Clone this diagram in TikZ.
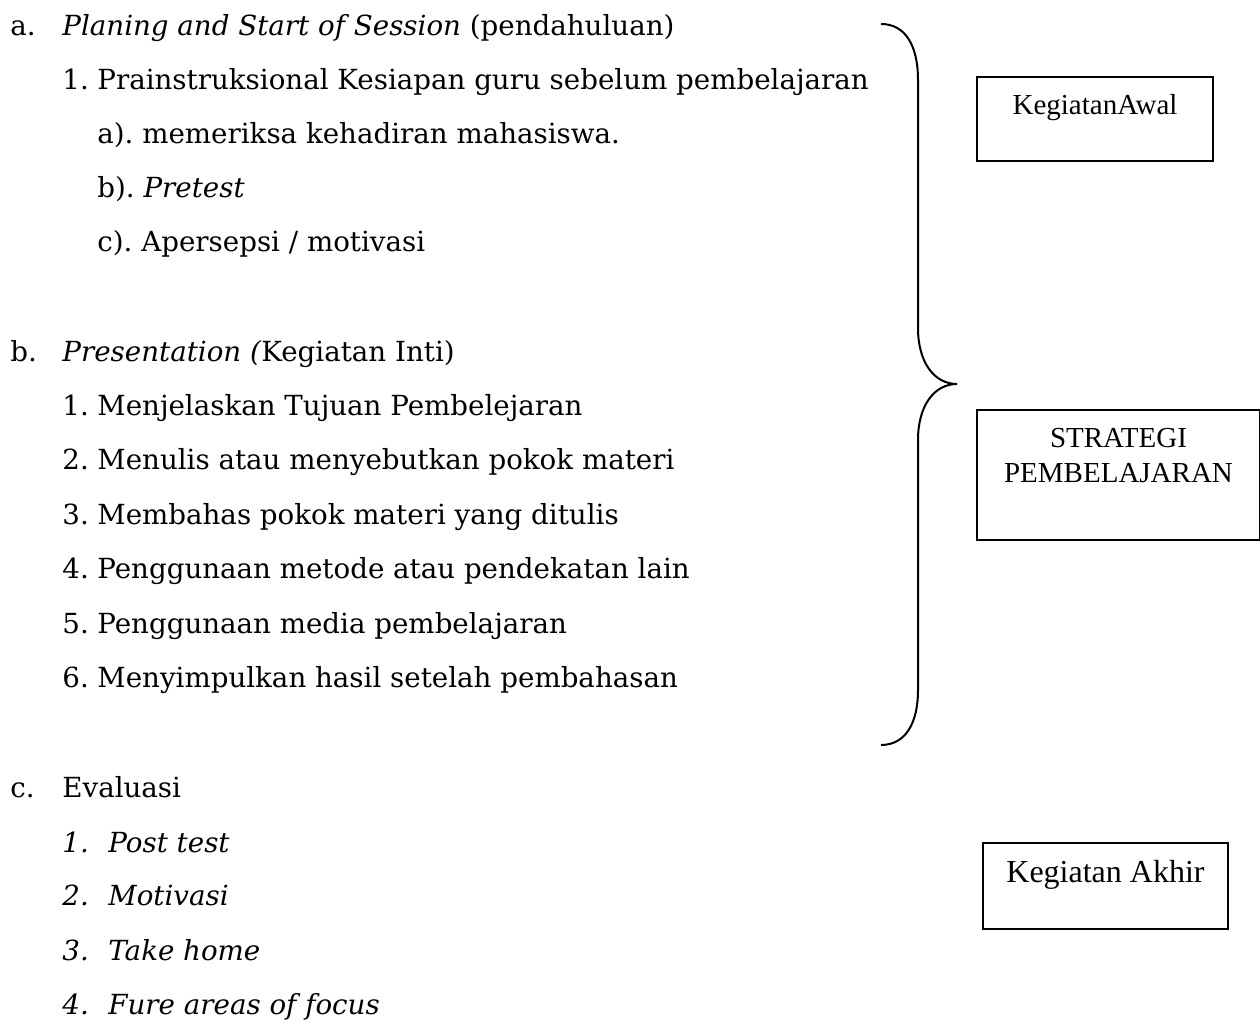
\documentclass[tikz,border=0pt]{standalone}
\usepackage{fontspec}
\setmainfont{DejaVu Serif}
\newfontfamily\boxfont{Liberation Serif}
\frenchspacing

\begin{document}
\begin{tikzpicture}[x=0.5pt, y=-0.5pt,
  txt/.style={anchor=base west, inner sep=0pt, font=\fontsize{13.85}{16}\selectfont},
  kotak/.style={draw, line width=1pt, anchor=north west, inner sep=0pt},
  kotaktxt/.style={inner sep=0pt, align=center, font=\boxfont\fontsize{14.5}{17.5}\selectfont}]
  % page size
  \useasboundingbox (0,0) rectangle (1260,1026);

  % a. pendahuluan
  \node[txt] (la) at (10,36) {a.};
  \node[txt] (ta) at (62,36) {\textit{Planing and Start of Session} (pendahuluan)};
  \node[txt] (na1) at (62,90) {1.};
  \node[txt] (ta1) at (97,90) {Prainstruksional Kesiapan guru sebelum pembelajaran};
  \foreach \y/\t [count=\i] in {144/{a). memeriksa kehadiran mahasiswa.}, 198/{b). \textit{Pretest}}, 252/{c). Apersepsi / motivasi}}
    \node[txt] (sa\i) at (97,\y) {\t};

  % b. kegiatan inti
  \node[txt] (lb) at (10,362) {b.};
  \node[txt] (tb) at (62,362) {\textit{Presentation (}Kegiatan Inti)};
  \foreach \y/\t [count=\i] in {416/{Menjelaskan Tujuan Pembelejaran}, 470/{Menulis atau menyebutkan pokok materi}, 525/{Membahas pokok materi yang ditulis}, 579/{Penggunaan metode atau pendekatan lain}, 634/{Penggunaan media pembelajaran}, 688/{Menyimpulkan hasil setelah pembahasan}} {
    \node[txt] (nb\i) at (62,\y) {\i.};
    \node[txt] (tb\i) at (97,\y) {\t};
  }

  % c. evaluasi
  \node[txt] (lc) at (10,798) {c.};
  \node[txt] (tc) at (62,798) {Evaluasi};
  \foreach \y/\t [count=\i] in {852/{Post test}, 906/{Motivasi}, 960/{Take home}, 1014/{Fure areas of focus}} {
    \node[txt] (nc\i) at (62,\y) {\textit{\i.}};
    \node[txt] (tc\i) at (108,\y) {\textit{\t}};
  }

  % kurung kurawal
  \draw[line width=1pt] (881,24) .. controls (905,24) and (918,45) .. (918,80)
    -- (918,328) .. controls (918,362) and (934,384) .. (957,384)
    .. controls (934,384) and (918,406) .. (918,440)
    -- (918,690) .. controls (918,724) and (905,745) .. (881,745);

  % kotak di kanan
  \node[kotak, minimum width=118pt, minimum height=42pt] (awal) at (976,76) {};
  \node[kotaktxt, anchor=base] (awaltxt) at ([yshift=-19.5pt]awal.north) {KegiatanAwal};
  \node[kotak, minimum width=141.5pt, minimum height=65pt] (strategi) at (976,409) {};
  \node[kotaktxt, anchor=north] (strategitxt) at ([yshift=-9.5pt]strategi.north) {STRATEGI\\PEMBELAJARAN};
  \node[kotak, minimum width=122.5pt, minimum height=43pt] (akhir) at (982,842) {};
  \node[kotaktxt, anchor=base, font=\boxfont\fontsize{16}{19}\selectfont] (akhirtxt) at ([yshift=-20pt]akhir.north) {Kegiatan Akhir};
\end{tikzpicture}
\end{document}
